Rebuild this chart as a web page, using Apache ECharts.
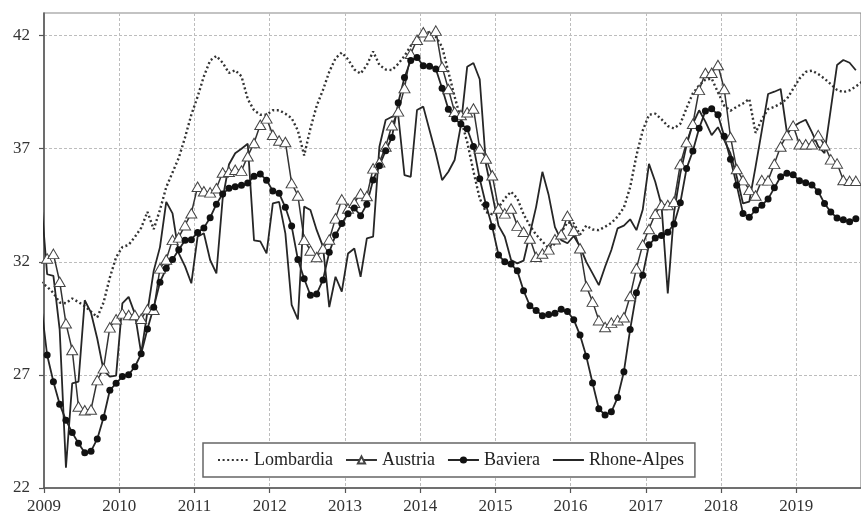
<!DOCTYPE html>
<html><head><meta charset="utf-8">
<script src="https://cdn.jsdelivr.net/npm/echarts@6/dist/echarts.min.js"></script>
<style>html,body{margin:0;padding:0;background:#fff}#c{width:861px;height:515px}</style>
</head><body><div id="c"></div>
<script>
// Monthly observations; first value = Dec 2008 (clipped by the axis), then Jan 2009 ...
const startYear = 2009;
const firstMonthOffset = -1;
const yTicks = [22, 27, 32, 37, 42];
const seriesNames = ['Lombardia', 'Austria', 'Baviera', 'Rhone-Alpes'];

const lombardia = [31.1,
 30.9, 30.62, 30.2, 30.17, 30.38, 30.22, 30.04, 29.8, 29.55, 30.2,
 31.3, 32.2, 32.65, 32.75, 33.1, 33.5, 34.21, 33.44, 34.3, 35.3,
 35.95, 36.6, 37.5, 38.5, 39.3, 40.2, 40.9, 41.1, 40.8, 40.35,
 40.47, 40.2, 39.2, 38.7, 38.5, 38.5, 38.7, 38.7, 38.55, 38.35,
 37.8, 36.7, 37.9, 38.9, 39.6, 40.4, 41.0, 41.25, 40.95, 40.5,
 40.32, 40.7, 41.3, 40.7, 40.5, 40.48, 40.75, 41.1, 41.55, 41.9,
 42.1, 42.15, 41.95, 41.5, 40.4, 39.3, 38.3, 37.3, 36.0, 34.8,
 34.2, 34.1, 34.4, 34.8, 35.1, 34.8, 34.1, 33.6, 33.2, 32.9,
 32.6, 32.8, 33.3, 33.75, 33.7, 33.2, 33.6, 33.43, 33.4, 33.55,
 33.72, 34.0, 34.4, 35.3, 36.7, 37.8, 38.5, 38.55, 38.3, 38.0,
 37.9, 38.1, 38.8, 39.45, 39.8, 40.05, 40.1, 39.5, 38.9, 38.68,
 38.85, 39.0, 39.2, 37.7, 38.3, 38.75, 38.85, 39.0, 39.2, 39.65,
 40.1, 40.4, 40.45, 40.3, 40.1, 39.85, 39.6, 39.5, 39.58, 39.75,
 39.96];

const austria = [32.0,
 32.15, 32.35, 31.12, 29.28, 28.1, 25.6, 25.44, 25.47, 26.77, 27.29,
 29.1, 29.46, 29.72, 29.65, 29.65, 29.48, 29.9, 29.88, 31.71, 32.1,
 32.97, 33.08, 33.62, 34.15, 35.32, 35.12, 35.07, 35.25, 35.95, 35.98,
 36.07, 36.03, 36.67, 37.25, 38.06, 38.34, 37.62, 37.36, 37.3, 35.48,
 34.93, 32.97, 32.5, 32.21, 32.59, 32.99, 33.92, 34.76, 34.36, 34.61,
 35.02, 34.91, 36.13, 36.4, 37.1, 38.04, 38.65, 39.68, 41.2, 41.82,
 42.15, 41.97, 42.22, 40.62, 39.64, 38.63, 38.49, 38.61, 38.78, 37.01,
 36.57, 35.83, 34.36, 34.14, 34.36, 33.6, 33.33, 33.03, 32.22, 32.37,
 32.55, 33.0, 33.22, 34.03, 33.38, 32.6, 30.92, 30.24, 29.42, 29.12,
 29.31, 29.42, 29.55, 30.49, 31.71, 32.76, 33.45, 34.12, 34.51, 34.51,
 34.66, 36.32, 37.29, 38.1, 39.6, 40.35, 40.36, 40.7, 39.64, 37.52,
 36.1, 35.61, 35.18, 34.93, 35.61, 35.6, 36.33, 37.1, 37.6, 38.02,
 37.2, 37.2, 37.2, 37.6, 37.15, 36.53, 36.35, 35.62, 35.58, 35.58];

const baviera = [30.2,
 27.88, 26.70, 25.70, 25.00, 24.45, 23.98, 23.56, 23.63, 24.17, 25.12,
 26.32, 26.63, 26.93, 27.01, 27.36, 27.93, 29.03, 29.99, 31.1, 31.71,
 32.1, 32.53, 32.95, 32.98, 33.3, 33.5, 33.95, 34.55, 35.0, 35.25,
 35.32, 35.38, 35.48, 35.78, 35.88, 35.61, 35.13, 35.03, 34.41, 33.58,
 32.1, 31.25, 30.52, 30.58, 31.2, 32.42, 33.18, 33.69, 34.12, 34.38,
 34.04, 34.55, 35.62, 36.25, 36.91, 37.5, 39.03, 40.15, 40.9, 41.03,
 40.67, 40.65, 40.52, 39.67, 38.74, 38.32, 38.09, 37.88, 37.1, 35.67,
 34.52, 33.55, 32.3, 32.0, 31.9, 31.6, 30.72, 30.06, 29.85, 29.62,
 29.67, 29.73, 29.9, 29.8, 29.44, 28.76, 27.82, 26.64, 25.5, 25.23,
 25.37, 26.0, 27.14, 29.01, 30.63, 31.41, 32.75, 33.05, 33.16, 33.31,
 33.67, 34.61, 36.13, 36.9, 37.9, 38.67, 38.77, 38.5, 37.55, 36.53,
 35.38, 34.14, 33.97, 34.29, 34.5, 34.78, 35.27, 35.76, 35.91, 35.85,
 35.58, 35.5, 35.4, 35.1, 34.58, 34.2, 33.94, 33.86, 33.77, 33.9];

const rhoneAlpes = [34.9,
 31.45, 31.38, 29.0, 22.9, 26.63, 26.7, 30.3, 29.75, 28.6, 27.2,
 26.92, 26.97, 30.16, 30.45, 29.7, 27.95, 29.8, 31.6, 32.65, 34.65,
 34.14, 32.37, 31.8, 31.05, 33.11, 33.26, 32.08, 31.49, 34.8, 36.3,
 36.8, 37.0, 37.22, 32.95, 32.9, 32.37, 34.58, 34.65, 33.26, 30.1,
 29.45, 34.44, 34.29, 33.4, 32.67, 30.0, 31.34, 30.68, 32.37, 32.59,
 31.34, 33.04, 33.11, 37.09, 38.27, 38.41, 38.49, 35.83, 35.76, 38.71,
 38.86, 37.82, 36.79, 35.61, 35.98, 36.5, 38.04, 40.62, 40.79, 40.07,
 36.3, 35.0, 33.6, 33.11, 32.08, 31.93, 32.05, 33.23, 34.43, 35.98,
 34.95, 33.53, 32.96, 32.82, 33.14, 32.67, 32.0, 31.49, 30.97, 31.78,
 32.52, 33.48, 33.6, 33.88, 33.4, 34.3, 36.33, 35.54, 34.5, 30.6,
 34.18, 35.9, 37.16, 38.1, 38.7, 38.2, 37.6, 37.95, 37.38, 36.79,
 35.76, 34.58, 34.66, 36.2, 37.8, 39.42, 39.52, 39.64, 37.72, 37.97,
 38.15, 38.28, 37.72, 37.1, 36.8, 38.75, 40.7, 40.92, 40.8, 40.47];

function toPoints(arr) {
  return arr.map((v, i) => [startYear + (i + firstMonthOffset + 0.5) / 12, v]);
}

const FONT = 'Liberation Serif';
const INK = '#262626';
const hiddenSymbol = {color: 'rgba(0,0,0,0)', borderColor: 'rgba(0,0,0,0)', borderWidth: 0};
const chart = echarts.init(document.getElementById('c'), null, {renderer: 'canvas'});
chart.setOption({
  animation: false,
  backgroundColor: '#fff',
  grid: {left: 44, right: 0, top: 13, bottom: 27, show: true, borderColor: '#888', borderWidth: 1.2},
  xAxis: {
    type: 'value', min: 2009, max: 2019.86, interval: 1,
    axisLine: {show: true, onZero: false, lineStyle: {color: '#555', width: 1.5}},
    axisTick: {show: true, length: 5, lineStyle: {color: '#555', width: 1.2}},
    axisLabel: {color: '#333', fontFamily: FONT, fontSize: 17, margin: 10, showMaxLabel: false,
      formatter: v => (Math.abs(v - Math.round(v)) < 1e-6 ? String(Math.round(v)) : '')},
    splitLine: {show: true, lineStyle: {color: '#bdbdbd', type: [3, 2], width: 1}}
  },
  yAxis: {
    type: 'value', min: 22, max: 43,
    axisLine: {show: true, onZero: false, lineStyle: {color: '#555', width: 1.5}},
    axisTick: {show: true, length: 5, customValues: yTicks, lineStyle: {color: '#555', width: 1.2}},
    axisLabel: {customValues: yTicks, color: '#333', fontFamily: FONT, fontSize: 17, margin: 14},
    splitLine: {show: true, lineStyle: {color: '#bdbdbd', type: [3, 2], width: 1}}
  },
  legend: {
    data: [
      {name: seriesNames[0], itemStyle: hiddenSymbol},
      {name: seriesNames[1]},
      {name: seriesNames[2]},
      {name: seriesNames[3], itemStyle: hiddenSymbol}
    ],
    left: 203, top: 443,
    backgroundColor: '#fff', borderColor: '#666', borderWidth: 1.5,
    padding: [8, 11, 8, 14], itemGap: 12, itemWidth: 31, itemHeight: 9,
    textStyle: {fontFamily: FONT, fontSize: 18, color: '#222'}
  },
  series: [
    {name: seriesNames[0], type: 'line', data: toPoints(lombardia), symbol: 'none', clip: true,
     itemStyle: {color: INK},
     lineStyle: {color: '#333', width: 2.4, type: [2, 2.6]}},
    {name: seriesNames[1], type: 'line', data: toPoints(austria), symbol: 'triangle', symbolSize: [11, 9.5], clip: true,
     itemStyle: {color: '#fff', borderColor: '#444', borderWidth: 1},
     lineStyle: {color: '#333', width: 1.5}},
    {name: seriesNames[2], type: 'line', data: toPoints(baviera), symbol: 'circle', symbolSize: 7, clip: true,
     itemStyle: {color: '#111'}, lineStyle: {color: INK, width: 1.8}},
    {name: seriesNames[3], type: 'line', data: toPoints(rhoneAlpes), symbol: 'none', clip: true,
     itemStyle: {color: INK},
     lineStyle: {color: INK, width: 1.8}}
  ]
});
</script>
</body></html>
